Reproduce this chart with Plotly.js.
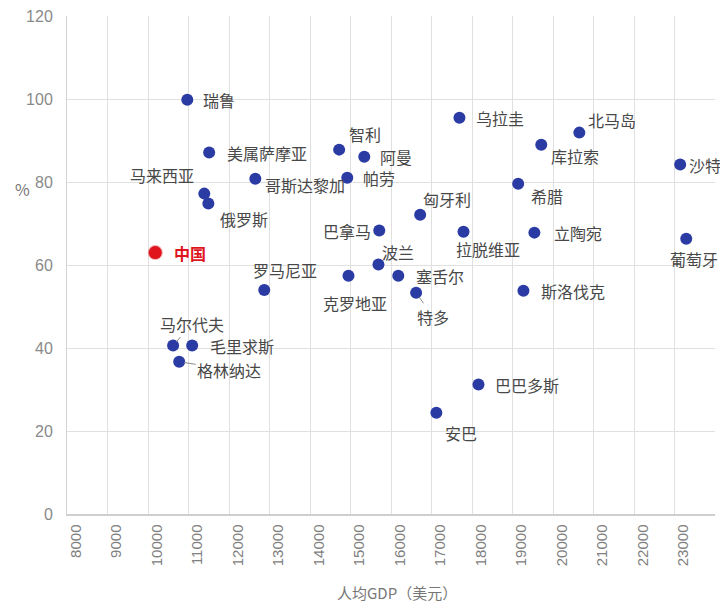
<!DOCTYPE html>
<html>
<head>
<meta charset="utf-8">
<script src="https://cdn.plot.ly/plotly-3.0.1.min.js"></script>
<style>
  html, body { margin: 0; padding: 0; background: #fff; }
  #chart { width: 720px; height: 606px; }
</style>
</head>
<body>
<div id="chart"></div>
<script>
// ---- data ----
const countries = ["瑞鲁","美属萨摩亚","马来西亚","俄罗斯","哥斯达黎加","智利","阿曼","帕劳",
  "巴拿马","匈牙利","波兰","罗马尼亚","克罗地亚","塞舌尔","特多","拉脱维亚","乌拉圭","北马岛",
  "库拉索","沙特","希腊","立陶宛","葡萄牙","斯洛伐克","马尔代夫","毛里求斯","格林纳达",
  "巴巴多斯","安巴"];
const gdpPerCapita = [10970,11510,11390,11490,12650,14720,15340,14920,
  15710,16720,15690,12870,14950,16180,16620,17790,17690,20650,
  19710,23140,19140,19540,23290,19270,10620,11090,10770,
  18160,17120];
const rate = [99.8,87.1,77.2,74.8,80.8,87.8,86.1,81.0,
  68.3,72.1,60.1,54.0,57.4,57.4,53.3,68.0,95.5,91.9,
  89.0,84.2,79.6,67.8,66.3,53.8,40.6,40.6,36.7,
  31.2,24.4];
const chinaName = ["中国"];
const chinaGdp = [10180];
const chinaRate = [63.0];
const xTickVals = [8000,9000,10000,11000,12000,13000,14000,15000,16000,17000,18000,19000,20000,21000,22000,23000];
const xTickText = ["8000","9000","10000","11000","12000","13000","14000","15000","16000","17000","18000","19000","20000","21000","22000","23000"];
const yTickVals = [0,20,40,60,80,100,120];
const xTitle = "人均GDP（美元）";
const yTitle = "%";

// ---- label placement (pixel offsets of label centre from dot; leader line flag) ----
const labelPlacement = {
  "瑞鲁":[32,0], "美属萨摩亚":[58,0], "马来西亚":[-42,-19], "俄罗斯":[36,15],
  "哥斯达黎加":[50,6], "智利":[26,-16], "阿曼":[32,0], "帕劳":[32,0],
  "巴拿马":[-32,0], "匈牙利":[27,-16], "波兰":[20,-13], "罗马尼亚":[21,-20],
  "克罗地亚":[7,27,true], "塞舌尔":[42,0], "特多":[17,24,true], "拉脱维亚":[24,17],
  "乌拉圭":[41,0], "北马岛":[33,-13], "库拉索":[34,11], "沙特":[25,0],
  "希腊":[29,12], "立陶宛":[44,0], "葡萄牙":[8,20], "斯洛伐克":[50,0],
  "马尔代夫":[19,-22,true], "毛里求斯":[50,0], "格林纳达":[50,8,true],
  "巴巴多斯":[49,0], "安巴":[25,20], "中国":[35,0]
};

const FONT = '"Noto Sans CJK SC", "Noto Sans", sans-serif';
const annotations = [];
countries.forEach((c, i) => {
  const p = labelPlacement[c] || [30, 0];
  annotations.push({
    x: gdpPerCapita[i], y: rate[i], xref: 'x', yref: 'y',
    text: c, showarrow: true, ax: p[0], ay: p[1],
    arrowhead: 0, arrowwidth: 1, standoff: 5,
    arrowcolor: p[2] ? '#8a8a8a' : 'rgba(0,0,0,0)',
    font: {family: FONT, size: 16, color: '#484848'}
  });
});
chinaName.forEach((c, i) => {
  const p = labelPlacement[c];
  annotations.push({
    x: chinaGdp[i], y: chinaRate[i], xref: 'x', yref: 'y',
    text: '<b>' + c + '</b>', showarrow: true, ax: p[0], ay: p[1],
    arrowhead: 0, arrowcolor: 'rgba(0,0,0,0)',
    font: {family: FONT, size: 16, color: '#e0141c'}
  });
});
annotations.push({
  text: yTitle, xref: 'paper', yref: 'y', x: -0.069, y: 78.4,
  xanchor: 'center', yanchor: 'middle',
  showarrow: false, font: {family: FONT, size: 16, color: '#777'}
});
annotations.push({
  text: xTitle, xref: 'paper', yref: 'paper', x: 0.51, y: -0.158,
  xanchor: 'center', yanchor: 'middle',
  showarrow: false, font: {family: FONT, size: 15, color: '#777'}
});

const traces = [
  {
    type: 'scatter', mode: 'markers', x: gdpPerCapita, y: rate, text: countries,
    marker: {size: 12, color: '#2b3ba4'}, hoverinfo: 'text+x+y', cliponaxis: false
  },
  {
    type: 'scatter', mode: 'markers', x: chinaGdp, y: chinaRate, text: chinaName,
    marker: {size: 13, color: '#e0141c', line: {color: 'rgba(224,20,28,0.35)', width: 2}},
    hoverinfo: 'text+x+y', cliponaxis: false
  }
];

const layout = {
  width: 720, height: 606,
  margin: {l: 67, r: 5, t: 16, b: 92},
  paper_bgcolor: '#fff', plot_bgcolor: '#fff',
  showlegend: false,
  font: {family: FONT, color: '#777'},
  xaxis: {
    range: [8000, 24000],
    tickvals: xTickVals, ticktext: xTickText,
    tickangle: -90, ticklabelshift: 9, ticklabelstandoff: 3,
    tickfont: {family: '"Liberation Sans", Arial, sans-serif', size: 15, color: '#808080'},
    showgrid: true, gridcolor: '#e0e0e0', gridwidth: 1,
    showline: true, linecolor: '#cfcfcf', linewidth: 1.5,
    ticks: '', zeroline: false, fixedrange: true
  },
  yaxis: {
    range: [0, 120],
    tickvals: yTickVals,
    tickfont: {family: '"Liberation Sans", Arial, sans-serif', size: 16, color: '#8a8a8a'},
    showgrid: true, gridcolor: '#e0e0e0', gridwidth: 1,
    showline: true, linecolor: '#d4d4d4', linewidth: 1,
    ticks: '', ticklabelstandoff: 10, zeroline: false, fixedrange: true
  },
  annotations: annotations
};

Plotly.newPlot('chart', traces, layout, {displayModeBar: false, staticPlot: true});
</script>
</body>
</html>
